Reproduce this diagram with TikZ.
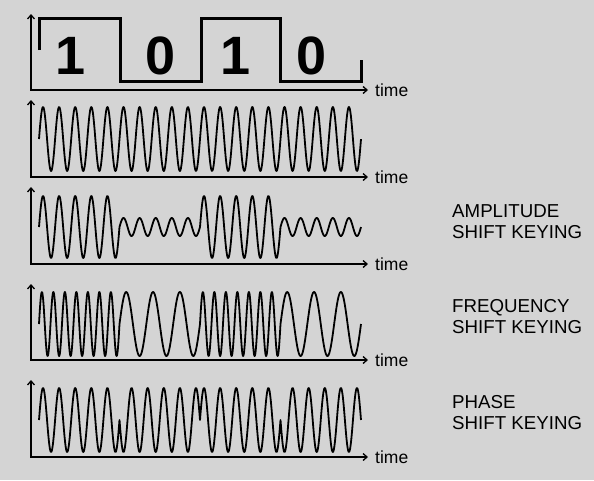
\documentclass[tikz,border=0pt]{standalone}
\usepackage{fontspec}
\setmainfont{Liberation Sans}
\usetikzlibrary{arrows.meta}
\definecolor{bg}{RGB}{212,212,212}
\begin{document}
\begin{tikzpicture}[x=1pt,y=-1pt,
  axis/.style={line width=1.3pt,{Straight Barb[length=4pt,width=7pt]}-{Straight Barb[length=4pt,width=7pt]}},
  wave/.style={line width=1.8pt,line join=round},
  sq/.style={line width=3pt,line join=miter},
  digit/.style={anchor=base,inner sep=0pt,font=\bfseries\fontsize{54}{60}\selectfont},
  tlab/.style={anchor=base west,inner sep=0pt,font=\fontsize{17.5}{20}\selectfont},
  klab/.style={anchor=base west,inner sep=0pt,align=left,font=\fontsize{18.7}{20.5}\selectfont}]
\fill[bg] (0,0) rectangle (594,480);
\useasboundingbox (0,0) rectangle (594,480);

% axes
\foreach \n/\t/\b in {1/14/90,2/100/177,3/187/264,4/284/360,5/380/457}{
  \coordinate (y\n) at (31,\t);
  \coordinate (o\n) at (31,\b);
  \coordinate (x\n) at (368,\b);
  \draw[axis] (y\n) -- (o\n) -- (x\n);
  \node[tlab] (t\n) at (375,\b+6) {time};
}

% data square wave
\draw[sq] (39,50) -- (39,18) -- (120,18) -- (120,81) -- (201,81) -- (201,18) -- (280,18) -- (280,81) -- (361,81) -- (361,60);
\node[digit] (d1) at (71,74) {1};
\node[digit] (d2) at (161,74) {0};
\node[digit] (d3) at (236,74) {1};
\node[digit] (d4) at (312,74) {0};

% carrier (5 cycles per 80.5: 22.36 deg per unit)
\draw[wave] plot[domain=39:361,samples=700] (\x,{139-32*sin((\x-39)*22.36)});

% ASK
\draw[wave] plot[domain=39:119.5,samples=200] (\x,{227-31*sin((\x-39)*22.36)})
  -- plot[domain=119.5:200,samples=200] (\x,{227-9*sin((\x-119.5)*22.36)})
  -- plot[domain=200:280.5,samples=200] (\x,{227-31*sin((\x-200)*22.36)})
  -- plot[domain=280.5:361,samples=200] (\x,{227-9*sin((\x-280.5)*22.36)});

% FSK (7 cycles: 31.30; 3 cycles: 13.416)
\draw[wave] plot[domain=39:119.5,samples=240] (\x,{324-32*sin((\x-39)*31.304)})
  -- plot[domain=119.5:200,samples=150] (\x,{324-32*sin((\x-119.5)*13.416)})
  -- plot[domain=200:280.5,samples=240] (\x,{324-32*sin((\x-200)*31.304)})
  -- plot[domain=280.5:361,samples=150] (\x,{324-32*sin((\x-280.5)*13.416)});

% PSK
\draw[wave] plot[domain=39:119.5,samples=200] (\x,{420-32*sin((\x-39)*22.36)})
  -- plot[domain=119.5:200,samples=200] (\x,{420+32*sin((\x-119.5)*22.36)})
  -- plot[domain=200:280.5,samples=200] (\x,{420-32*sin((\x-200)*22.36)})
  -- plot[domain=280.5:361,samples=200] (\x,{420+32*sin((\x-280.5)*22.36)});

% labels (base anchor = last line baseline)
\node[klab] (ask) at (452,238) {AMPLITUDE\\SHIFT KEYING};
\node[klab] (fsk) at (452,333) {FREQUENCY\\SHIFT KEYING};
\node[klab] (psk) at (452,429) {PHASE\\SHIFT KEYING};
\end{tikzpicture}
\end{document}
